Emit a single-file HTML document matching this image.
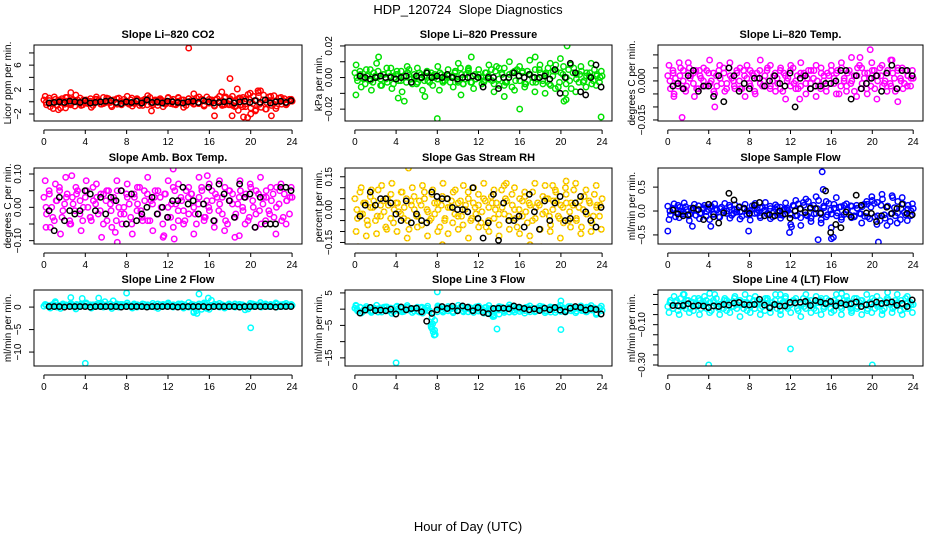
<!DOCTYPE html>
<html><head><meta charset="utf-8"><style>
html,body{margin:0;padding:0;background:#fff}
svg{display:block}
text{font-family:"Liberation Sans",Arial,sans-serif}
</style></head><body>
<svg id="chart" width="936" height="540" viewBox="0 0 936 540">
<text x="468" y="14" text-anchor="middle" font-size="13" style="white-space:pre">HDP_120724  Slope Diagnostics</text>
<text x="468" y="531" text-anchor="middle" font-size="13">Hour of Day (UTC)</text>
</svg>
<script>
const hourTicks=[0,4,8,12,16,20,24];
// CO2
const co2A=[0.3,-0.5,0.6,-0.3,0.8,-0.6,0.2,0.5,-0.4,0.7,-0.2,0.4,-0.7,0.3,0.6,-0.5,0.1,-0.3,0.5,-0.6,0.4,0.2,-0.4,0.7,-0.1,0.5,-0.6,0.3,-0.2,0.6,-0.5,0.4,0.1,-0.4,0.6,-0.3,0.5,-0.6,0.2,0.4,-0.5,0.7,-0.2,0.3,-0.6,0.5,0.1,-0.4,0.6,-0.3,0.4,-0.5,0.7,-0.2,0.3,-0.6,0.5,0.2,-0.4,0.6,-0.3,0.4,-0.5,0.8,-0.2,0.3,-0.7,0.5,0.1,-0.4,0.6,-0.3,0.5,-0.6,0.2,0.4,-0.5,0.7,-0.8,1.2,-1.0,0.9,-1.3,1.5,-0.9,1.1,-1.2,0.8,-0.6,1.0,-0.7,0.6,-0.4,0.5,-0.3,0.4,0.1];
const co2B=[0.9,-0.8,0.4,-1.0,0.7,-0.5,1.1,-0.6,0.3,-0.9,0.8,-0.4,0.6,-0.8,0.5,-0.3,0.9,-0.7,0.4,-0.6,1.0,-0.5,0.3,-0.8,0.7,-0.4,0.6,-0.9,0.5,-0.3,0.8,-0.7,0.4,-0.6,0.9,-0.5,0.3,-0.8,0.6,-0.4,1.4,-1.5,1.8,-1.2,0.9,-1.1,0.7,-0.5,0.4];
const co2C=[-0.1,0.2,-0.3,0.0,0.3,-0.2,0.1,-0.4,0.2,0.0,-0.3,0.3,-0.1,0.1,-0.2,0.4,0.0,-0.3,0.2,-0.1,0.3,-0.4,0.1,0.0,-0.2,0.3,-0.1,0.2,-0.3,0.0,0.4,-0.2,0.1,-0.1,0.3,-0.3,0.0,0.2,-0.4,0.1,0.3,-0.2,0.0,-0.1,0.2,-0.3,0.4,0.1,-0.2,0.0,0.3,-0.1,-0.6,0.8,-0.5,0.9,-0.7,0.6,-0.8,0.5,0.4,-0.3,0.2,-0.4,0.3,-0.1,0.2,-0.3,0.1,0.0,0.2,-0.2,0.1];
const co2K=[-0.2,-0.1,0.0,-0.1,0.1,0.0,-0.1,0.2,-0.2,-0.1,0.0,0.1,0.2,-0.1,-0.3,0.0,-0.1,0.1,-0.2,0.3,-0.1,0.0,-0.2,0.1,0.0,-0.1,-0.2,0.0,0.1,-0.1,0.2,0.0,-0.2,-0.1,0.0,0.1,-0.2,0.0,0.1,-0.1,0.2,-0.1,0.3,-0.2,0.0,0.1,-0.1,0.2];
const co2OX=[14,18,18.7,16.5,18.2,19.3,19.7,20,22,18.8,10.4,1.4,17.2,14.5,2.6,20.7,2.1,0.9];
const co2OY=[8.8,3.8,2.1,-2.3,-2.3,-2.5,-2.6,-2.0,-2.3,-1.4,-1.5,-1.3,1.6,1.3,1.5,1.8,-1,-1.1];
// Pressure
const prA=[0.003,-0.002,0.004,0.000,-0.004,0.002,0.005,-0.003,0.001,0.004,-0.005,0.002,-0.001,0.003,0.006,-0.004,0.002,-0.002,0.004,0.001,-0.003,0.005,-0.001,0.002,-0.004,0.003,0.000,-0.002,0.004,-0.003,0.001,0.002,-0.001,0.003,-0.002,0.000,0.002,-0.003,0.001,0.004,-0.002,0.006,-0.004,0.002,0.005,-0.003,0.001,-0.001,0.002,0.000,-0.002,0.003,-0.001,0.005,-0.004,0.007,-0.005,0.003,0.006,-0.003,0.002,-0.006,0.004,0.005,-0.002,0.003,-0.004,0.004,0.002,-0.003,0.005,-0.001,0.003,-0.004,0.002,0.006,-0.005,0.004,0.008,-0.006,0.003,0.007,-0.004,0.005,-0.007,0.006,0.002,-0.003,0.004,-0.002,0.003,0.001,-0.004,0.005,0.002,-0.003,0.001];
const prB=[0.008,-0.006,0.005,-0.008,0.009,-0.005,0.006,-0.007,0.004,-0.009,0.007,-0.004,0.006,-0.008,0.003,-0.005,0.007,-0.003,0.005,-0.006,0.009,-0.004,0.006,-0.007,0.005,-0.003,0.008,-0.009,0.006,-0.005,0.010,-0.008,0.007,-0.006,0.011,-0.009,0.008,-0.010,0.009,-0.007,0.012,-0.010,0.008,-0.009,0.007,-0.006,0.009,-0.005,0.004];
const prC=[0.000,0.002,-0.001,0.001,-0.002,0.003,0.000,-0.001,0.002,-0.003,0.001,0.000,0.002,-0.002,0.001,0.003,-0.001,0.000,-0.003,0.002,0.001,-0.002,0.003,0.000,-0.001,0.002,-0.002,0.001,0.000,0.003,-0.003,0.002,-0.001,0.004,-0.003,0.002,0.000,-0.004,0.003,0.001,-0.002,0.004,-0.001,0.002,-0.003,0.000,0.003,-0.002,0.001,0.004,-0.004,0.002,0.000,-0.003,0.005,-0.002,0.003,-0.004,0.001,0.004,-0.003,0.002,0.000,-0.002,0.003,-0.001,0.002,-0.003,0.001,0.003,-0.002,0.001,0.000];
const prK=[0.001,0.000,-0.001,0.000,0.001,0.000,0.000,-0.001,0.000,0.001,-0.003,0.001,0.000,0.003,0.000,0.001,0.000,0.002,0.000,-0.001,0.000,0.000,0.001,0.000,-0.006,0.000,0.000,-0.007,0.000,0.000,0.003,0.001,0.000,0.002,0.000,0.000,0.001,-0.001,0.005,-0.010,0.000,0.009,0.003,-0.009,-0.011,0.000,0.008,-0.006];
const prOX=[8,23.9,16,0.1,2.3,8.2,11.3,20.6,20.3,20.5,4.2,4.8,6.8,10.3,14.5,17.5];
const prOY=[-0.026,-0.025,-0.020,-0.011,0.013,-0.008,0.013,0.020,-0.015,-0.014,-0.013,-0.015,-0.012,-0.011,-0.012,0.013];
// Li-820 Temp
const tpA=[0.002,-0.003,0.004,0.001,-0.002,0.005,0.000,-0.004,0.003,0.002,-0.001,0.004,-0.003,0.001,0.005,-0.002,0.003,0.000,-0.004,0.002,0.004,-0.001,0.003,-0.003,0.005,0.001,-0.002,0.004,0.000,-0.003,0.002,0.006,-0.001,0.003,-0.004,0.001,0.004,-0.002,0.002,0.005,-0.003,0.000,0.003,-0.001,0.004,-0.004,0.002,0.001,-0.002,0.005,0.000,-0.003,0.003,0.002,-0.001,0.004,-0.003,0.001,0.006,-0.002,0.003,0.000,-0.004,0.002,0.004,-0.001,0.003,-0.005,0.005,0.001,-0.002,0.004,0.000,-0.004,0.002,0.006,-0.001,0.003,-0.005,0.001,0.004,-0.003,0.002,0.005,-0.002,0.000,0.004,-0.001,0.003,-0.004,0.005,0.001,-0.003,0.004,0.002,-0.002,0.001];
const tpB=[0.006,-0.005,0.007,-0.003,0.005,-0.006,0.004,-0.002,0.008,-0.005,0.006,-0.004,0.007,-0.003,0.005,-0.006,0.004,-0.005,0.008,-0.002,0.006,-0.004,0.005,-0.007,0.006,-0.003,0.007,-0.005,0.004,-0.006,0.005,-0.002,0.006,-0.005,0.007,-0.004,0.009,-0.006,0.005,-0.003,0.007,-0.007,0.006,-0.004,0.008,-0.003,0.005,-0.002,0.004];
const tpC=[0.000,0.003,-0.001,0.002,0.004,-0.002,0.001,0.003,-0.003,0.002,0.000,0.004,-0.001,0.003,-0.002,0.001,0.005,-0.001,0.002,0.000,0.003,-0.003,0.004,0.001,-0.002,0.002,0.003,-0.001,0.000,0.004,-0.002,0.002,0.001,-0.003,0.003,0.000,0.004,-0.001,0.002,-0.002,0.003,0.001,-0.001,0.004,0.000,-0.003,0.002,0.003,-0.001,0.001,0.004,-0.002,0.000,0.003,-0.001,0.002,0.005,-0.003,0.001,0.003,-0.002,0.004,0.000,0.002,-0.001,0.003,-0.002,0.001,0.004,0.000,-0.001,0.002,0.001];
const tpK=[-0.002,-0.001,-0.003,0.002,0.004,-0.004,-0.002,-0.002,-0.006,0.002,-0.008,0.005,0.002,-0.004,-0.001,-0.003,0.001,0.001,-0.002,0.000,0.002,-0.001,-0.002,0.003,-0.010,0.001,0.002,-0.003,-0.002,-0.002,-0.001,-0.001,0.000,0.004,0.004,-0.007,0.002,-0.003,-0.001,0.001,0.002,-0.004,0.003,0.006,-0.003,0.004,0.004,0.002];
const tpOX=[1.4,4.6,19.8,18.8,2.0,21.8,12.9,22.5,0.6];
const tpOY=[-0.014,-0.010,0.012,0.009,0.007,0.008,-0.007,-0.008,-0.006];
// Amb Box Temp
const abA=[0.03,-0.02,0.05,0.00,-0.04,0.02,0.06,-0.03,0.01,0.04,-0.05,0.03,-0.01,0.05,0.02,-0.04,0.03,0.00,-0.03,0.06,0.01,-0.02,0.04,-0.05,0.02,0.05,-0.01,0.03,-0.04,0.00,0.05,-0.02,0.04,0.01,-0.05,0.03,-0.01,0.06,-0.03,0.02,0.04,-0.04,0.01,0.05,-0.02,0.03,-0.05,0.04,0.00,-0.03,0.06,0.01,-0.04,0.03,-0.01,0.05,-0.02,0.04,0.00,-0.05,0.03,0.06,-0.03,0.02,-0.01,0.05,-0.04,0.03,0.01,-0.02,0.06,-0.05,0.02,0.04,-0.03,0.01,0.05,-0.01,0.03,-0.04,0.06,0.00,-0.02,0.04,-0.05,0.03,0.05,-0.01,0.02,-0.03,0.06,0.01,-0.04,0.04,0.02,-0.02,0.03];
const abB=[0.08,-0.06,0.07,-0.08,0.09,-0.05,0.06,-0.07,0.08,-0.04,0.07,-0.09,0.05,-0.06,0.08,-0.05,0.07,-0.08,0.06,-0.04,0.09,-0.07,0.05,-0.09,0.08,-0.06,0.07,-0.05,0.06,-0.08,0.09,-0.04,0.07,-0.06,0.08,-0.07,0.05,-0.09,0.08,-0.05,0.07,-0.06,0.09,-0.04,0.06,-0.08,0.07,-0.05,0.06];
const abC=[0.00,0.04,-0.03,0.02,0.05,-0.01,0.03,-0.04,0.01,0.04,-0.02,0.00,0.05,-0.03,0.02,0.03,-0.01,0.04,-0.04,0.01,0.02,0.05,-0.02,0.00,0.03,-0.03,0.04,0.01,-0.01,0.05,-0.04,0.02,0.03,-0.02,0.00,0.04,-0.03,0.01,0.05,-0.01,0.02,-0.04,0.03,0.04,-0.02,0.01,0.05,-0.03,0.00,0.02,0.04,-0.01,0.03,-0.04,0.05,0.01,-0.02,0.03,0.00,0.04,-0.03,0.02,0.05,-0.01,0.01,0.03,-0.02,0.04,0.00,0.05,-0.03,0.02,0.03];
const abK=[-0.01,-0.07,0.03,-0.04,-0.01,-0.02,-0.01,0.05,0.04,-0.01,0.03,-0.02,0.03,0.02,0.05,-0.05,0.04,-0.04,-0.02,0.00,0.03,-0.02,0.00,-0.03,0.02,0.02,0.06,0.01,0.02,-0.02,0.01,0.06,-0.04,0.07,0.04,0.02,-0.03,0.07,0.03,0.04,-0.06,0.03,-0.05,-0.05,-0.05,0.06,0.06,0.05];
const abOX=[7.1,12.5,12.6,2.7,6.9,11.6,18.9,15.8,0.2];
const abOY=[-0.105,0.115,-0.095,0.095,-0.075,-0.085,-0.085,0.095,-0.06];
// Gas Stream RH
const rhA=[0.05,-0.04,0.08,-0.02,0.03,-0.07,0.06,0.01,-0.05,0.09,-0.03,0.04,-0.08,0.02,0.07,-0.06,0.03,-0.01,0.08,-0.04,0.05,-0.09,0.02,0.06,-0.03,0.04,-0.07,0.08,0.00,-0.05,0.07,-0.02,0.03,-0.08,0.06,-0.04,0.05,0.01,-0.06,0.09,-0.03,0.04,-0.07,0.02,0.08,-0.05,0.03,-0.02,0.07,-0.06,0.05,-0.08,0.01,0.06,-0.04,0.03,-0.07,0.09,-0.02,0.04,-0.05,0.07,0.00,-0.08,0.05,-0.03,0.06,-0.06,0.02,0.08,-0.04,0.03,-0.09,0.06,-0.01,0.05,-0.07,0.04,0.08,-0.03,0.02,-0.06,0.07,-0.05,0.03,0.09,-0.04,0.01,-0.08,0.06,-0.02,0.04,-0.06,0.07,0.02,-0.03,0.05];
const rhB=[-0.10,0.10,-0.12,0.09,-0.11,0.11,-0.09,0.12,-0.10,0.08,-0.13,0.10,-0.08,0.11,-0.12,0.09,-0.10,0.12,-0.11,0.08,-0.09,0.11,-0.13,0.10,-0.08,0.12,-0.10,0.09,-0.12,0.11,-0.09,0.10,-0.11,0.08,-0.12,0.12,-0.09,0.11,-0.10,0.09,-0.13,0.10,-0.08,0.12,-0.11,0.09,-0.10,0.11,-0.09];
const rhC=[0.00,-0.02,0.03,-0.05,0.01,0.04,-0.03,0.02,-0.01,0.05,-0.04,0.00,0.03,-0.02,0.01,-0.05,0.04,0.00,-0.03,0.02,0.05,-0.01,-0.04,0.03,0.00,0.02,-0.05,0.01,0.04,-0.02,0.03,-0.03,0.00,0.05,-0.04,0.01,0.02,-0.01,0.04,-0.05,0.03,0.00,-0.02,0.01,0.05,-0.03,0.02,-0.04,0.00,0.04,-0.01,0.03,-0.05,0.01,0.02,-0.02,0.05,-0.03,0.00,0.04,-0.04,0.01,0.03,-0.01,0.02,-0.05,0.04,0.00,-0.02,0.03,-0.03,0.01,0.02];
const rhK=[-0.03,0.02,0.08,0.02,0.05,0.05,0.03,-0.02,-0.05,0.04,-0.06,-0.02,-0.05,-0.06,0.08,0.06,0.05,0.05,0.01,0.00,0.00,-0.01,0.10,-0.04,-0.13,-0.06,0.07,-0.14,0.03,-0.05,-0.05,-0.03,-0.08,0.07,-0.01,-0.09,0.04,-0.05,0.03,0.06,-0.05,-0.04,0.03,0.06,-0.01,-0.05,-0.08,0.01];
const rhOX=[0.3,5.2,14.7,19.2,8.5,18.1,17.0,20.5];
const rhOY=[-0.17,0.19,0.12,0.11,-0.16,-0.17,-0.16,0.13];
// Sample Flow
const sfA=[0.10,-0.08,0.05,-0.12,0.12,0.00,-0.06,0.09,-0.10,0.06,0.02,-0.09,0.11,-0.04,0.07,-0.11,0.03,0.10,-0.07,0.05,-0.12,0.08,0.01,-0.05,0.12,-0.09,0.04,-0.02,0.09,-0.11,0.06,0.00,-0.08,0.11,-0.05,0.03,-0.10,0.07,0.02,-0.06,0.10,-0.12,0.05,-0.03,0.08,-0.09,0.04,0.01,-0.07,0.12,-0.10,0.15,-0.14,0.18,-0.08,0.20,-0.15,0.12,-0.05,0.22,-0.18,0.10,-0.12,0.16,-0.06,0.14,-0.10,0.08,-0.13,0.12,0.02,-0.08,0.10,-0.12,0.06,-0.05,0.09,-0.11,0.14,-0.16,0.22,-0.12,0.18,-0.20,0.25,-0.15,0.10,-0.22,0.28,-0.10,0.20,-0.18,0.15,-0.08,0.12,-0.10,0.05];
const sfB=[-0.18,0.15,-0.14,0.17,-0.20,0.14,-0.16,0.12,-0.18,0.15,-0.13,0.16,-0.15,0.13,-0.17,0.14,-0.19,0.16,-0.14,0.18,-0.16,0.13,-0.15,0.17,-0.28,0.22,-0.30,0.25,-0.22,0.30,-0.25,0.20,-0.35,0.28,-0.18,0.15,-0.14,0.12,-0.25,0.20,0.30,-0.28,0.35,-0.30,0.32,-0.25,0.28,-0.20,0.15];
const sfC=[0.00,0.05,-0.04,0.08,-0.02,0.03,-0.07,0.06,0.01,-0.05,0.04,-0.01,0.07,-0.06,0.02,0.05,-0.03,0.00,0.08,-0.05,0.03,-0.02,0.06,-0.07,0.01,0.04,-0.04,0.07,0.00,-0.06,0.05,-0.02,0.09,-0.08,0.03,0.06,-0.05,0.10,-0.09,0.04,0.12,-0.10,0.08,-0.06,0.05,-0.03,0.07,-0.08,0.02,0.06,-0.04,0.09,-0.07,0.03,0.11,-0.10,0.05,-0.06,0.14,-0.12,0.08,0.16,-0.10,0.12,-0.08,0.10,-0.06,0.07,-0.04,0.05,-0.03,0.04,0.00];
const sfK=[0.02,-0.06,-0.10,-0.08,0.06,0.03,-0.18,0.14,-0.12,-0.25,-0.04,0.37,0.23,0.08,0.05,-0.05,0.12,0.18,-0.10,-0.08,-0.10,0.00,-0.06,-0.15,0.00,0.05,-0.03,0.06,0.05,-0.05,0.42,-0.45,-0.28,-0.35,-0.02,-0.12,0.33,0.12,-0.04,-0.05,-0.22,-0.10,0.08,-0.05,0.05,0.14,-0.05,-0.08];
const sfOX=[15.1,15.2,14.7,16,16.2,20.6,0,7.9,11.9,12.1,2.4,4.2];
const sfOY=[0.82,0.45,-0.60,-0.58,-0.55,-0.65,-0.42,-0.42,-0.45,-0.33,-0.32,-0.32];
// Line 2 Flow
const l2A=[0.2,0.4,0.1,0.3,0.5,0.0,0.2,0.4,0.1,0.3,0.2,0.5,0.0,0.3,0.1,0.4,0.2,0.3,0.0,0.5,0.1,0.2,0.4,0.0,0.3,0.2,0.1,0.4,0.3,0.0,0.2,0.5,0.1,0.3,0.2,0.4,0.0,0.3,0.1,0.2,0.4,0.1,0.3,0.0,0.2,0.5,0.1,0.3,0.2,0.4,0.0,0.2,0.3,0.1,0.4,0.2,0.0,0.3,0.5,-0.8,0.1,-0.5,0.4,-0.3,0.2,0.3,0.1,0.4,0.0,0.2,0.3,0.1,0.5,0.2,0.0,0.3,0.1,0.4,0.2,-0.4,0.3,0.1,0.2,0.4,0.0,0.3,0.5,0.1,0.2,0.4,0.0,0.3,0.1,0.5,0.2,0.3,0.4];
const l2B=[0.6,-0.2,0.9,-0.3,0.5,0.8,-0.4,0.7,0.9,-0.2,0.6,0.8,0.5,-0.3,0.7,0.6,0.9,-0.2,0.5,0.7,0.4,0.8,-0.3,0.6,0.9,0.5,0.7,-0.2,1.0,-1.2,0.7,0.9,-0.5,0.6,0.8,-0.2,0.5,0.7,0.6,-0.6,0.8,0.5,1.0,0.7,0.6,0.9,0.5,0.8,0.6];
const l2C=[0.5,0.3,0.6,0.2,0.4,0.7,0.3,0.5,0.2,0.6,0.4,0.3,0.7,0.5,0.2,0.4,0.6,0.3,0.5,0.7,0.2,0.4,0.6,0.3,0.5,0.2,0.7,0.4,0.3,0.6,0.5,0.2,0.4,0.7,0.3,0.5,0.6,0.2,0.4,0.3,0.7,0.5,0.2,0.6,0.4,0.3,0.5,0.7,0.2,0.4,0.6,0.3,0.5,0.2,0.7,0.4,0.3,0.6,0.5,0.2,0.4,0.7,0.3,0.5,0.6,0.2,0.4,0.3,0.7,0.5,0.6,0.4,0.3];
const l2K=[0.1,0.1,0.1,0.0,0.1,0.1,0.1,0.1,0.0,0.1,0.1,0.1,0.1,0.1,0.0,0.1,0.1,0.1,0.1,0.0,0.1,0.1,0.1,0.1,0.1,0.0,0.1,0.1,0.1,0.1,0.1,0.0,0.1,0.1,0.1,0.1,0.1,0.0,0.1,0.1,0.1,0.1,0.1,0.1,0.0,0.1,0.1,0.1];
const l2OX=[4,20,8,2.6,3.7,5.3,15,15.9,16.2,14.5,14.8,6.7,5.9,1.1];
const l2OY=[-12.5,-4.6,3.1,2.1,1.9,2.0,2.9,2.0,1.5,-1.0,-1.4,1.4,1.2,1.2];
// Line 3 Flow
const l3A=[0.3,-0.5,0.6,-0.8,0.2,-0.3,0.5,-0.6,0.1,-0.9,0.4,-0.2,0.7,-0.5,0.3,-0.8,0.6,-0.4,0.2,-0.7,0.5,-0.3,0.1,-0.6,0.4,-0.9,0.6,-0.2,0.3,-0.5,-2.5,-3.5,-0.8,0.4,-0.6,0.2,-0.4,0.5,-0.7,0.3,-0.2,0.6,-0.5,0.1,-0.8,0.4,-0.3,0.7,-0.6,0.2,-0.4,0.5,-1.2,0.3,-1.8,0.1,-1.5,0.6,-0.5,0.4,-0.9,0.8,-0.3,0.5,-0.7,0.2,-0.4,0.6,-0.8,0.3,-0.5,0.4,-0.2,0.7,-0.6,0.1,-0.9,0.5,-0.3,0.6,-0.7,0.4,-0.2,0.8,-0.5,0.3,-0.6,0.5,-0.4,0.2,-0.8,0.6,-0.3,0.4,-1.5,0.3,-0.4];
const l3B=[1.0,-1.2,0.8,-1.0,1.2,-0.9,0.7,-1.3,0.9,-0.8,1.1,-1.0,0.6,-1.2,0.9,-4.5,1.0,-0.9,0.8,-1.1,1.2,-0.8,0.7,-1.0,0.9,-1.2,1.1,-2.2,0.8,-1.0,1.3,-0.9,0.6,-1.2,1.0,-0.8,0.9,-1.1,0.7,-1.0,1.2,-0.9,0.8,-1.1,1.0,-0.8,1.1,-1.6,0.9];
const l3C=[0.0,0.5,-0.3,0.2,-0.6,0.4,0.1,-0.4,0.6,-0.2,0.3,-0.5,0.0,0.4,-0.3,0.5,-0.1,0.2,-0.6,0.3,0.0,-0.4,-5.5,-6.5,0.5,-0.2,0.3,-0.5,0.1,0.4,-0.3,0.6,-0.1,0.2,-0.5,0.3,0.0,-0.4,0.5,-0.2,-1.4,0.2,-0.3,0.4,-0.1,0.6,-0.5,0.2,0.0,-0.3,0.5,-0.2,0.3,-0.6,0.1,0.4,-0.4,0.2,0.0,0.5,-0.3,0.1,-0.5,0.4,-0.2,0.3,0.0,-0.4,0.6,-0.1,0.2,-1.2,0.3];
const l3K=[-1.2,-0.3,0.5,-0.4,-0.3,-0.5,0.0,-1.5,0.7,-0.2,0.2,0.3,-0.8,-3.7,-1.3,-0.2,0.8,0.2,0.9,-0.5,1.0,0.6,-0.5,0.5,-1.0,-1.4,0.2,0.3,0.3,0.1,1.0,0.6,0.2,-0.2,0.1,-0.4,0.3,-0.2,0.5,-0.3,-0.8,0.3,0.8,0.5,-0.3,0.2,-0.1,-1.5];
const l3OX=[4,8,20,13.8,20,7.5,7.6,7.7,7.8,13.4,7.4,0.1];
const l3OY=[-16.5,5.3,-6.3,-6.1,2.5,-6,-7,-8,-7.8,-2.3,-5,1.2];
// Line 4 (LT) Flow
const l4A=[-0.01,0.02,-0.02,0.01,-0.03,0.03,-0.01,-0.02,0.02,0.01,-0.03,0.00,0.03,-0.02,0.01,0.02,-0.01,-0.03,0.01,0.03,-0.02,0.00,0.02,-0.03,0.01,-0.01,0.03,-0.02,0.02,0.00,0.01,-0.03,0.03,0.00,-0.02,0.02,0.01,-0.01,-0.03,0.03,-0.02,0.01,0.02,0.00,-0.03,0.01,0.03,-0.02,0.00,0.02,0.01,-0.03,0.00,0.03,-0.02,0.01,0.02,0.00,-0.03,0.01,0.03,-0.02,0.00,0.02,0.01,-0.03,0.00,0.03,-0.02,0.02,0.01,0.00,-0.03,0.03,-0.02,0.01,0.02,0.00,-0.03,0.01,0.03,-0.02,0.00,0.02,-0.03,0.01,0.03,0.00,-0.02,0.02,0.01,-0.03,0.00,0.03,-0.02,0.01,0.00];
const l4B=[-0.04,0.04,-0.05,0.05,-0.04,0.03,-0.05,0.04,-0.04,0.05,-0.05,0.03,-0.04,0.04,-0.06,0.05,-0.04,0.04,-0.05,0.03,-0.04,0.05,-0.05,0.04,-0.04,0.03,-0.06,0.05,-0.04,0.04,-0.05,0.03,-0.04,0.05,-0.05,0.04,-0.04,0.03,-0.05,0.05,-0.04,0.04,-0.05,0.03,-0.04,0.05,-0.05,0.04,-0.04];
const l4C=[0.01,-0.02,0.02,-0.01,0.00,0.02,-0.02,0.01,-0.01,0.02,0.00,-0.02,0.01,0.02,-0.01,0.00,-0.02,0.02,0.01,-0.01,0.00,0.02,-0.02,0.01,-0.01,0.02,0.00,-0.02,0.01,0.02,-0.01,0.00,-0.02,0.02,0.01,-0.01,0.00,0.02,-0.02,0.01,-0.01,0.02,0.00,-0.02,0.01,0.02,-0.01,0.00,-0.02,0.02,0.01,-0.01,0.00,0.02,-0.02,0.01,-0.01,0.02,0.00,-0.02,0.01,0.02,-0.01,0.00,-0.02,0.02,0.01,-0.01,0.00,0.02,-0.02,0.01,0.00];
const l4K=[-0.005,-0.006,-0.005,0.004,-0.008,-0.005,-0.008,-0.015,-0.007,-0.010,0.000,-0.003,0.007,0.010,0.000,-0.002,0.000,0.026,-0.003,-0.016,0.000,-0.008,-0.007,0.010,0.008,0.011,0.015,-0.005,0.020,0.012,0.005,0.015,-0.007,0.007,-0.001,0.004,0.013,-0.010,-0.001,0.002,0.012,0.005,0.009,0.013,-0.004,0.005,-0.010,0.023];
const l4OX=[4,20,12,1.5,4.1,11,17,21.5,0.3];
const l4OY=[-0.30,-0.30,-0.22,0.050,0.055,0.050,0.055,0.060,0.020];

const NS='http://www.w3.org/2000/svg';
const svg=document.getElementById('chart');
function mk(tag,attrs,parent){const e=document.createElementNS(NS,tag);for(const k in attrs)e.setAttribute(k,attrs[k]);(parent||svg).appendChild(e);return e;}

const cols=[[34,302],[345,612],[658,923]];
const rows=[[45,121],[168,244],[290,366]];
const panels=[
 {key:'co2',title:'Slope Li\u2013820 CO2',yl:'Licor ppm per min.',r:0,c:0,ymin:-3.15,ymax:9.3,ticks:[-2,0,2,4,6,8],labs:['-2','','2','','6',''],col:'#ff0000',A:co2A,B:co2B,C:co2C,K:co2K,OX:co2OX,OY:co2OY},
 {key:'pressure',title:'Slope Li\u2013820 Pressure',yl:'kPa per min.',r:0,c:1,ymin:-0.0275,ymax:0.0206,ticks:[-0.02,-0.01,0,0.01,0.02],labs:['-0.02','','0.00','','0.02'],col:'#00e000',A:prA,B:prB,C:prC,K:prK,OX:prOX,OY:prOY},
 {key:'li820-temp',title:'Slope Li\u2013820 Temp.',yl:'degrees C per min.',r:0,c:2,ymin:-0.0154,ymax:0.0138,ticks:[-0.015,-0.01,-0.005,0,0.005,0.01],labs:['-0.015','','','0.000','',''],col:'#ff00ff',A:tpA,B:tpB,C:tpC,K:tpK,OX:tpOX,OY:tpOY},
 {key:'amb-box-temp',title:'Slope Amb. Box Temp.',yl:'degrees C per min.',r:1,c:0,ymin:-0.11,ymax:0.118,ticks:[-0.1,-0.05,0,0.05,0.1],labs:['-0.10','','0.00','','0.10'],col:'#ff00ff',A:abA,B:abB,C:abC,K:abK,OX:abOX,OY:abOY},
 {key:'gas-stream-rh',title:'Slope Gas Stream RH',yl:'percent per min.',r:1,c:1,ymin:-0.157,ymax:0.19,ticks:[-0.15,-0.1,-0.05,0,0.05,0.1,0.15],labs:['-0.15','','','0.00','','','0.15'],col:'#f0a000',rh:true,A:rhA,B:rhB,C:rhC,K:rhK,OX:rhOX,OY:rhOY},
 {key:'sample-flow',title:'Slope Sample Flow',yl:'ml/min per min.',r:1,c:2,ymin:-0.69,ymax:0.9,ticks:[-0.5,0,0.5],labs:['-0.5','0.0','0.5'],col:'#0000ff',A:sfA,B:sfB,C:sfC,K:sfK,OX:sfOX,OY:sfOY},
 {key:'line2-flow',title:'Slope Line 2 Flow',yl:'ml/min per min.',r:2,c:0,ymin:-13.1,ymax:3.8,ticks:[-10,-5,0],labs:['-10','-5','0'],col:'#00ffff',A:l2A,B:l2B,C:l2C,K:l2K,OX:l2OX,OY:l2OY},
 {key:'line3-flow',title:'Slope Line 3 Flow',yl:'ml/min per min.',r:2,c:1,ymin:-17.5,ymax:5.9,ticks:[-15,-10,-5,0,5],labs:['-15','','-5','','5'],col:'#00ffff',A:l3A,B:l3B,C:l3C,K:l3K,OX:l3OX,OY:l3OY},
 {key:'line4-flow',title:'Slope Line 4 (LT) Flow',yl:'ml/min per min.',r:2,c:2,ymin:-0.305,ymax:0.072,ticks:[-0.3,-0.25,-0.2,-0.15,-0.1,-0.05,0,0.05],labs:['-0.30','','','','-0.10','','',''],col:'#00ffff',A:l4A,B:l4B,C:l4C,K:l4K,OX:l4OX,OY:l4OY}
];

panels.forEach(p=>{
 const [x0,x1]=cols[p.c],[y0,y1]=rows[p.r];
 const g=mk('g',{});
 
 
 const xs=v=>x0+(v+0.96)/25.92*(x1-x0);
 const ys=v=>y1-(v-p.ymin)/(p.ymax-p.ymin)*(y1-y0);
 const cx=(x0+x1)/2;
 const t=mk('text',{x:cx,y:y0-7,'text-anchor':'middle','font-size':11,'font-weight':'bold'},g);t.textContent=p.title;
 
 
 const clip=mk('clipPath',{id:'clip-'+p.key},g);mk('rect',{x:x0,y:y0,width:x1-x0,height:y1-y0},clip);
 const pts=mk('g',{'clip-path':'url(#clip-'+p.key+')',fill:'none','stroke-width':1.5},g);
 
 
 function dot(x,y,color,isBlack){
   const c=mk('circle',{cx:xs(x).toFixed(1),cy:ys(y).toFixed(1),r:2.7,stroke:color},pts);
   
   
   if(p.rh&&!isBlack){const d=mk('circle',{cx:xs(x).toFixed(1),cy:ys(y).toFixed(1),r:2.7,stroke:'#ffee00','stroke-dasharray':'1.5 1.5'},pts);
     
     }
 }
 p.A.forEach((v,i)=>dot(i*24/(p.A.length-1),v,p.col,false));
 p.B.forEach((v,i)=>dot(0.12+i*23.8/(p.B.length-1),v,p.col,false));
 p.C.forEach((v,i)=>dot(0.2+i*23.6/(p.C.length-1),v,p.col,false));
 p.OX.forEach((x,i)=>dot(x,p.OY[i],p.col,false));
 p.K.forEach((v,i)=>dot(0.5+i*23.4/(p.K.length-1),v,'#000',true));
 const box=mk('rect',{x:x0,y:y0,width:x1-x0,height:y1-y0,fill:'none',stroke:'#000','stroke-width':1},g);
 
 
 const ax=mk('g',{stroke:'#000','stroke-width':1},g);
 
 
 mk('line',{x1:xs(0),x2:xs(24),y1:y1+9,y2:y1+9},ax);
 hourTicks.forEach(h=>{
   mk('line',{x1:xs(h),x2:xs(h),y1:y1+9,y2:y1+13},ax);
   const tl=mk('text',{x:xs(h),y:y1+24,'text-anchor':'middle','font-size':10,stroke:'none',fill:'#000'},g);tl.textContent=h;
   
   
 });
 const ay=mk('g',{stroke:'#000','stroke-width':1},g);
 
 
 p.ticks.forEach((v,i)=>{
   const y=ys(v);
   mk('line',{x1:x0-5,x2:x0,y1:y,y2:y},ay);
   if(p.labs[i]){
     const tl=mk('text',{x:x0-13,y:y,'text-anchor':'middle','font-size':10,transform:`rotate(-90 ${x0-13} ${y})`},g);tl.textContent=p.labs[i].replace('-','\u2212');
     
     
   }
 });
 const yt=mk('text',{x:x0-23,y:(y0+y1)/2,'text-anchor':'middle','font-size':10,transform:`rotate(-90 ${x0-23} ${(y0+y1)/2})`},g);yt.textContent=p.yl;
 
 
});
</script>
</body></html>
